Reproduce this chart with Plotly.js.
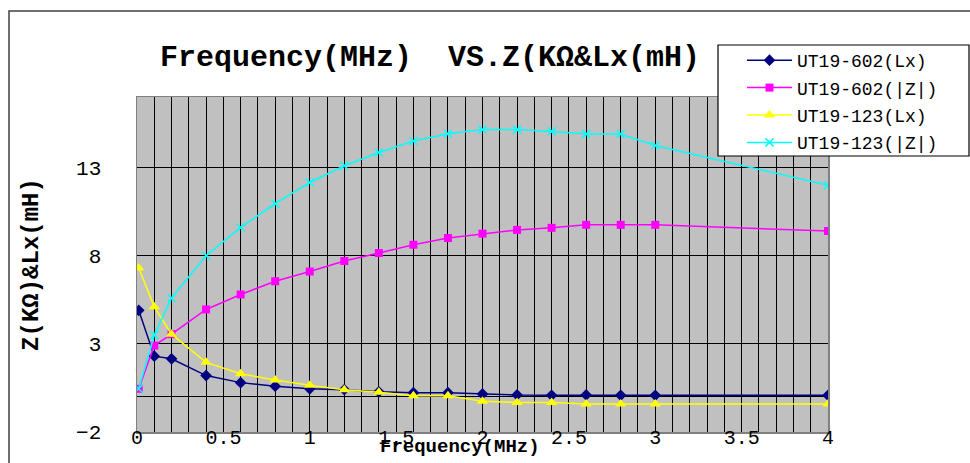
<!DOCTYPE html>
<html>
<head>
<meta charset="utf-8">
<script src="https://cdn.plot.ly/plotly-3.0.1.min.js"></script>
<style>
  html, body { margin: 0; padding: 0; background: #ffffff; }
  #chart { width: 970px; height: 463px; }
  #chart .gridlayer path, #chart .minor-gridlayer path, #chart .zerolinelayer path { shape-rendering: crispEdges; }
</style>
</head>
<body>
<div id="chart"></div>
<script>
// Frequency (MHz)
const freq = [0.01, 0.1, 0.2, 0.4, 0.6, 0.8, 1.0, 1.2, 1.4, 1.6, 1.8, 2.0, 2.2, 2.4, 2.6, 2.8, 3.0, 4.0];
// Series values
const ut602Lx = [4.9, 2.3, 2.15, 1.2, 0.8, 0.6, 0.45, 0.4, 0.28, 0.23, 0.23, 0.16, 0.1, 0.08, 0.1, 0.08, 0.08, 0.08];
const ut602Z  = [0.45, 2.9, 3.55, 4.95, 5.8, 6.55, 7.1, 7.7, 8.15, 8.62, 9.0, 9.25, 9.46, 9.58, 9.75, 9.75, 9.75, 9.4];
const ut123Lx = [7.3, 5.1, 3.55, 1.95, 1.3, 0.95, 0.65, 0.4, 0.25, 0.06, 0.06, -0.26, -0.32, -0.32, -0.41, -0.41, -0.41, -0.41];
const ut123Z  = [0.45, 3.5, 5.6, 8.0, 9.6, 10.95, 12.15, 13.1, 13.85, 14.5, 14.92, 15.15, 15.15, 15.05, 14.9, 14.9, 14.25, 12.0];
// Names and labels
const seriesNames = ['UT19-602(Lx)', 'UT19-602(|Z|)', 'UT19-123(Lx)', 'UT19-123(|Z|)'];
const yTicks = [-2, 3, 8, 13];
const xTicks = [0, 0.5, 1, 1.5, 2, 2.5, 3, 3.5, 4];
const titleText = 'Frequency(MHz)  VS.Z(KΩ&Lx(mH)';
const xTitleText = 'Frequency(MHz)';
const yTitleText = 'Z(KΩ)&Lx(mH)';

const monoFont = 'Liberation Mono, DejaVu Sans Mono, monospace';

const traces = [
  { x: freq, y: ut602Lx, name: seriesNames[0], legendgroup: 'a', mode: 'lines+markers',
    line: { color: '#000080', width: 1.5 },
    marker: { symbol: 'diamond', size: 9, color: '#000080' } },
  { x: freq, y: ut602Z, name: seriesNames[1], legendgroup: 'b', mode: 'lines+markers',
    line: { color: '#FF00FF', width: 1.5 },
    marker: { symbol: 'square', size: 8, color: '#FF00FF' } },
  { x: freq, y: ut123Lx, name: seriesNames[2], legendgroup: 'c', mode: 'lines+markers',
    line: { color: '#FFFF00', width: 1.5 },
    marker: { symbol: 'triangle-up', size: 10, color: '#FFFF00' } },
  { x: freq, y: ut123Z, name: seriesNames[3], legendgroup: 'd', mode: 'lines+markers',
    line: { color: '#00FFFF', width: 1.5 },
    marker: { symbol: 'x-thin-open', size: 8, color: '#00FFFF', line: { color: '#00FFFF', width: 1.5 } } }
];

const layout = {
  width: 970, height: 463,
  margin: { l: 137, r: 142, t: 97, b: 31 },
  paper_bgcolor: '#ffffff',
  plot_bgcolor: '#C0C0C0',
  showlegend: true,
  title: {
    text: titleText,
    font: { family: monoFont, size: 30, color: '#000000', weight: 'bold' },
    x: 430 / 970, xref: 'container', xanchor: 'center',
    y: 1 - 55 / 463, yref: 'container', yanchor: 'middle'
  },
  xaxis: {
    range: [0, 4],
    tickvals: xTicks,
    ticktext: xTicks.map(String),
    ticks: '',
    showgrid: true, gridcolor: '#000000', gridwidth: 1,
    minor: { dtick: 0.1, tick0: 0, showgrid: true, gridcolor: '#000000', gridwidth: 1 },
    zeroline: false,
    showline: true, linecolor: '#808080', linewidth: 1.5, mirror: true,
    ticklabelstandoff: -14,
    tickfont: { family: monoFont, size: 20, color: '#000000' },
    fixedrange: true
  },
  yaxis: {
    range: [-2, 17],
    tickvals: yTicks,
    ticktext: yTicks.map(v => v < 0 ? '\u2212' + Math.abs(v) : String(v)),
    ticks: '',
    showgrid: true, gridcolor: '#000000', gridwidth: 1,
    zeroline: true, zerolinecolor: '#000000', zerolinewidth: 1.5,
    showline: true, linecolor: '#808080', linewidth: 1.5, mirror: true,
    ticklabelstandoff: 30,
    tickfont: { family: monoFont, size: 21, color: '#000000' },
    title: { text: yTitleText, font: { family: monoFont, size: 24, color: '#000000', weight: 'bold' }, standoff: 0 },
    fixedrange: true
  },
  legend: {
    x: (742 - 137) / 691, xanchor: 'left',
    y: (432 - 42) / 335, yanchor: 'top',
    bgcolor: 'rgba(0,0,0,0)',
    borderwidth: 0,
    font: { family: monoFont, size: 18, color: '#000000' },
    itemwidth: 45,
    tracegroupgap: 1
  },
  annotations: [
    { text: xTitleText, xref: 'paper', yref: 'paper',
      x: (460 - 137) / 691, y: (432 - 447) / 335, xanchor: 'center', yanchor: 'middle',
      showarrow: false, font: { family: monoFont, size: 19, color: '#000000', weight: 'bold' } }
  ],
  shapes: [
    // outer chart frame
    { type: 'rect', xref: 'paper', yref: 'paper', layer: 'below',
      x0: (9 - 137) / 691, x1: (1000 - 137) / 691, y0: (432 - 500) / 335, y1: (432 - 11) / 335,
      line: { color: '#404040', width: 1.5 }, fillcolor: 'rgba(0,0,0,0)' },
    // legend box
    { type: 'rect', xref: 'paper', yref: 'paper', layer: 'above',
      x0: (718 - 137) / 691, x1: (969 - 137) / 691, y0: (432 - 156) / 335, y1: (432 - 45) / 335,
      line: { color: '#000000', width: 1.2 }, fillcolor: '#ffffff' }
  ]
};

Plotly.newPlot('chart', traces, layout, { displayModeBar: false, staticPlot: true }).then(function () {
  // y-axis title position: centre it at x ≈ 38px
  const yt = document.querySelector('.g-ytitle text');
  if (yt) {
    const y = parseFloat(yt.getAttribute('y'));
    yt.setAttribute('x', 38);
    yt.setAttribute('transform', 'rotate(-90,38,' + y + ')');
  }
});
</script>
</body>
</html>
